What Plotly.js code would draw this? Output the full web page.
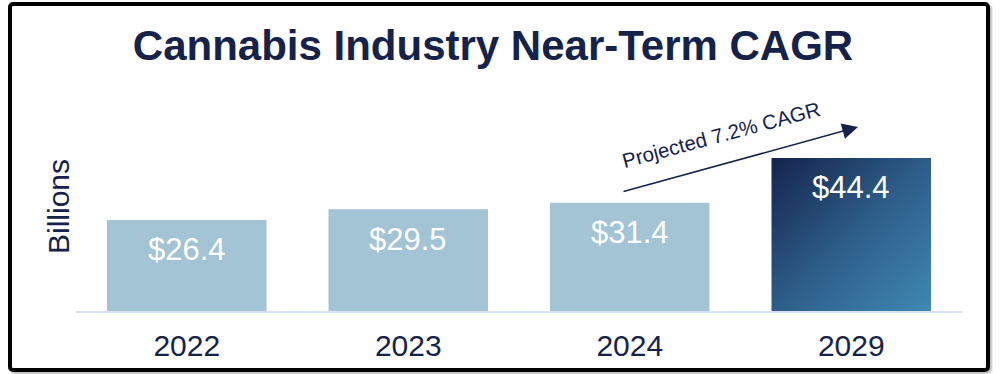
<!DOCTYPE html>
<html>
<head>
<meta charset="utf-8">
<script src="https://cdn.plot.ly/plotly-3.0.1.min.js"></script>
<style>
  html, body { margin: 0; padding: 0; background: #ffffff; }
  #wrap { position: relative; width: 1000px; height: 374px; }
  #chart { width: 1000px; height: 374px; }
  #frame { position: absolute; left: 8px; top: 2px; width: 982px; height: 370px;
           box-sizing: border-box; border: 4px solid #000; border-radius: 5px;
           box-shadow: 2px 2px 2px rgba(0,0,0,0.25); pointer-events: none; }
</style>
</head>
<body>
<div id="wrap">
  <div id="chart"></div>
  <div id="frame"></div>
</div>
<script>
// ---- data ----
const years = ['2022', '2023', '2024', '2029'];
const revenue = [26.4, 29.5, 31.4, 44.4];
const labels = ['$26.4', '$29.5', '$31.4', '$44.4'];
const cagrText = 'Projected 7.2% CAGR';
const yTitle = 'Billions';

const navy = '#15234b';
const light = '#a3c4d4';
const FONT = 'Liberation Sans, Arial, sans-serif';

const barTrace = {
  type: 'bar',
  x: years,
  y: revenue,
  width: 0.72,
  marker: { color: years.map((y, i) => i === years.length - 1 ? '#2c5a86' : light), line: { width: 0 } },
  hoverinfo: 'none'
};

const annotations = revenue.map((v, i) => ({
  xref: 'x', yref: 'y', x: i, y: v,
  yanchor: 'middle', yshift: -30,
  text: labels[i], showarrow: false,
  font: { family: FONT, size: 31, color: '#ffffff' }
}));

// CAGR arrow and label (paper coordinates of the plot area)
annotations.push({
  xref: 'paper', yref: 'paper', x: (858 - 76) / 886, y: (311 - 127) / 221,
  ax: -236, ay: 65,
  text: '', showarrow: true, arrowhead: 2, arrowsize: 2.1, arrowwidth: 1.5,
  arrowcolor: navy
});
annotations.push({
  xref: 'paper', yref: 'paper', x: (721 - 76) / 886, y: (311 - 134) / 221,
  xanchor: 'center', yanchor: 'middle',
  text: cagrText, showarrow: false, textangle: -15,
  font: { family: FONT, size: 20.5, color: navy }
});
// y-axis title
annotations.push({
  xref: 'paper', yref: 'paper', x: (58 - 76) / 886, y: (311 - 207) / 221,
  xanchor: 'center', yanchor: 'middle',
  text: yTitle, showarrow: false, textangle: -90,
  font: { family: FONT, size: 30, color: navy }
});

const layout = {
  width: 1000, height: 374,
  margin: { l: 76, r: 38, t: 90, b: 63 },
  paper_bgcolor: '#ffffff', plot_bgcolor: '#ffffff',
  showlegend: false,
  title: {
    text: 'Cannabis Industry Near-Term CAGR',
    xref: 'container', x: 0.493, xanchor: 'center',
    yref: 'container', y: 1 - 45 / 374, yanchor: 'middle',
    font: { family: FONT, size: 42, color: navy, weight: 'bold' }
  },
  xaxis: {
    type: 'category',
    range: [-0.5, 3.5],
    showline: true, linecolor: '#d9e1f2', linewidth: 2,
    showgrid: false, zeroline: false, ticks: '',
    ticklabelstandoff: 7,
    tickfont: { family: FONT, size: 30, color: navy }
  },
  yaxis: {
    range: [0, 64.1],
    showticklabels: false, showgrid: false, zeroline: false, showline: false, ticks: ''
  },
  annotations: annotations,
  bargap: 0.28
};

Plotly.newPlot('chart', [barTrace], layout, { displayModeBar: false, staticPlot: true }).then(gd => {
  const svg = gd.querySelector('svg.main-svg');
  const ns = 'http://www.w3.org/2000/svg';
  let defs = svg.querySelector('defs');
  if (!defs) { defs = document.createElementNS(ns, 'defs'); svg.insertBefore(defs, svg.firstChild); }
  const grad = document.createElementNS(ns, 'linearGradient');
  grad.setAttribute('id', 'lastBarGrad');
  grad.setAttribute('x1', '0'); grad.setAttribute('y1', '0');
  grad.setAttribute('x2', '1'); grad.setAttribute('y2', '1');
  [['0%', '#15234b'], ['50%', '#2d5d88'], ['100%', '#3f88b3']].forEach(([o, c]) => {
    const s = document.createElementNS(ns, 'stop');
    s.setAttribute('offset', o); s.setAttribute('stop-color', c);
    grad.appendChild(s);
  });
  defs.appendChild(grad);
  const paths = gd.querySelectorAll('.trace.bars .point path');
  const last = paths[paths.length - 1];
  if (last) last.style.fill = 'url(#lastBarGrad)';
});
</script>
</body>
</html>
